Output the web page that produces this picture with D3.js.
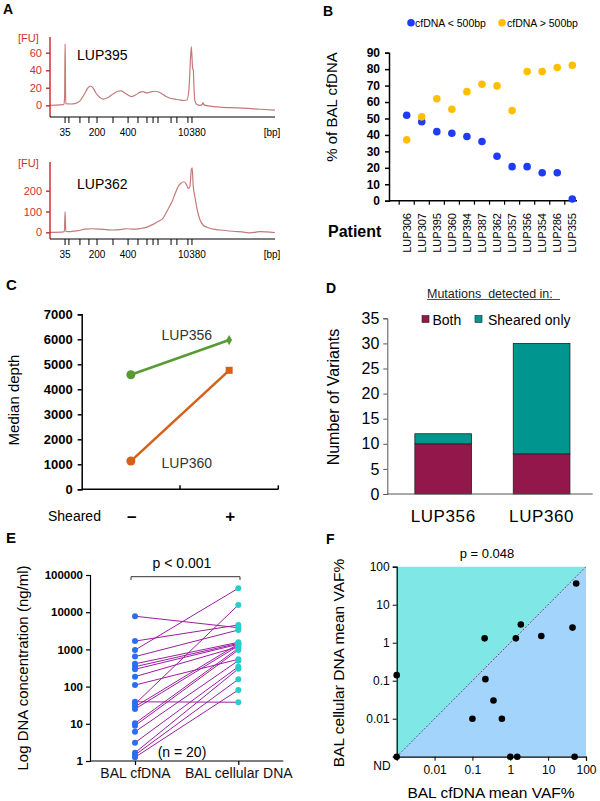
<!DOCTYPE html>
<html>
<head>
<meta charset="utf-8">
<script src="https://cdn.jsdelivr.net/npm/d3@7"></script>
<style>
  body { margin: 0; background: #fff; }
  svg text { font-family: Arial, "Liberation Sans", sans-serif; }
</style>
</head>
<body>
<div id="chart-area"></div>
<script>
// ---- panel A: electropherograms (time index vs FU)
var ladderBp = [35, 50, 100, 150, 200, 300, 400, 500, 600, 700, 1000, 2000, 3000, 7000, 10380];
var ladderTime = [6.7, 8.4, 13.3, 17.3, 20.9, 28.0, 34.7, 39.1, 43.1, 45.8, 48.0, 53.8, 56.4, 61.3, 63.1];
var ladderLabels = ["35", "200", "400", "10380"];

var lup395Time = [0, 4.4, 6.2, 6.5, 6.7, 6.8, 7.0, 8.9, 11.1, 13.3, 15.1, 16.9, 18.0, 19.1, 20.4, 22.2, 23.6, 25.8, 28.0, 30.2, 31.6, 33.3, 35.1, 36.4, 38.2, 40.0, 41.3, 43.1, 44.4, 46.7, 48.0, 49.8, 51.6, 53.3, 55.6, 57.8, 59.6, 60.9, 61.8, 62.2, 62.8, 63.1, 63.4, 63.7, 64.0, 64.4, 65.3, 66.7, 67.6, 68.0, 68.4, 71.1, 75.6, 84.4, 93.3, 100];
var lup395FU = [0, 0.5, 1, 10, 70, 55, 2, 1.5, 2, 5, 12, 20, 22, 20, 14, 9, 7, 9, 13, 16, 16.5, 14, 11, 10, 12, 15, 15.5, 14, 15, 16, 15.5, 13, 10, 8, 7, 6, 5.5, 6, 20, 40, 67, 55, 42, 40, 20, 5, 1, 0, 1, 3, 0.5, -1, -2, -3, -4.5, -5.5];

var lup362Time = [0, 5.3, 6.4, 6.7, 7.0, 8.9, 12.4, 15.6, 18.7, 22.2, 25.8, 28.0, 31.1, 34.2, 36.9, 40.0, 43.1, 45.8, 48.0, 50.2, 52.4, 54.2, 55.6, 56.9, 58.2, 59.6, 60.7, 61.5, 62.2, 62.8, 63.2, 63.6, 64.4, 65.6, 66.7, 68.0, 69.8, 72.4, 75.6, 81.3, 86.7, 88.9, 91.6, 93.3, 96.0, 98.7, 100];
var lup362FU = [0, 1, 3, 100, 4, 3, 8, 15, 17, 15, 12, 11, 13, 17, 15, 18, 25, 38, 52, 67, 110, 147, 185, 219, 236, 243, 228, 211, 220, 300, 310, 230, 171, 100, 59, 35, 24, 15, 11, 5, 0, -3, 1, 3, 2, 0, -1];

// ---- panel B
var patients = ["LUP306", "LUP307", "LUP395", "LUP360", "LUP394", "LUP387", "LUP362", "LUP357", "LUP356", "LUP354", "LUP286", "LUP355"];
var shortPct = [52, 48, 42, 41, 39, 36, 27, 20.7, 20.7, 17, 17, 1];
var longPct = [37, 51, 62, 55.6, 66.3, 70.8, 69.8, 54.8, 78.5, 78.5, 81, 82.4];

// ---- panel C
var sheared = ["–", "+"];
var depth356 = [4580, 5970];
var depth360 = [1130, 4760];

// ---- panel D
var dPatients = ["LUP356", "LUP360"];
var bothCount = [10, 8];
var shearedOnlyCount = [2, 22];

// ---- panel E
var eGroups = ["BAL cfDNA", "BAL cellular DNA"];
var cfConc = [7800, 1670, 960, 640, 410, 343, 292, 185, 110, 39, 34, 29, 25, 10.3, 8.9, 6.1, 3.1, 1.67, 1.45, 1.26];
var cellConc = [3830, 4530, 44000, 3320, 1550, 1450, 1370, 1180, 542, 38, 15600, 1400, 1250, 1070, 960, 497, 343, 300, 157, 81];

// ---- panel F (ND plotted at 0.001)
var cfVaf = [0.21, 1.4, 1.9, 6.6, 44, 55, 0.001, 0.22, 0.36, 0.1, 0.6, 0.001, 1.0, 1.53, 50];
var cellVaf = [1.3, 1.3, 3.0, 1.5, 2.5, 36, 0.14, 0.11, 0.03, 0.01, 0.01, 0.001, 0.001, 0.001, 0.001];
var fTicks = [0.01, 0.1, 1, 10, 100];

var svg = d3.select("#chart-area").append("svg")
    .attr("width", 600)
    .attr("height", 801);

function panelLabel(t, x, y, size) {
    svg.append("text").text(t).attr("x", x).attr("y", y)
        .attr("font-size", size || 14).attr("font-weight", "bold");
}

// ================= A =================
var red = "#cc3333";
var xA = d3.scaleLinear().domain([0, 100]).range([50, 275]);

function electro(trTime, trFU, yScale, ticks, yTop, yBot, name, nameY) {
    var g = svg.append("g");
    // trace
    var line = d3.line()
        .x(function(d, i) { return xA(trTime[i]); })
        .y(function(d) { return yScale(d); })
        .curve(d3.curveMonotoneX);
    g.append("path").attr("d", line(trFU))
        .attr("fill", "none").attr("stroke", "#c47a7a").attr("stroke-width", 1.2);
    // y axis
    g.append("line").attr("x1", 50).attr("x2", 50).attr("y1", yTop).attr("y2", yBot)
        .attr("stroke", red).attr("stroke-width", 1.5);
    var ya = g.append("g").attr("transform", "translate(50,0)")
        .call(d3.axisLeft(yScale).tickValues(ticks).tickSize(4).tickPadding(4));
    ya.select(".domain").remove();
    ya.selectAll("line").attr("stroke", red).attr("stroke-width", 1.5);
    ya.selectAll("text").attr("fill", red).attr("font-size", 11);
    g.append("text").text("[FU]").attr("x", 18).attr("y", yTop + 5)
        .attr("fill", red).attr("font-size", 11);
    // x axis
    g.append("line").attr("x1", 50).attr("x2", 275).attr("y1", yBot).attr("y2", yBot)
        .attr("stroke", "#000").attr("stroke-width", 1.2);
    g.selectAll(".lt").data(ladderTime).enter().append("line")
        .attr("x1", function(d) { return xA(d); }).attr("x2", function(d) { return xA(d); })
        .attr("y1", yBot).attr("y2", yBot + 6)
        .attr("stroke", "#000").attr("stroke-width", 1);
    g.selectAll(".ll").data(ladderLabels).enter().append("text")
        .text(function(d) { return d; })
        .attr("x", function(d) { return xA(ladderTime[ladderBp.indexOf(+d)]); })
        .attr("y", yBot + 19)
        .attr("text-anchor", "middle").attr("font-size", 10);
    g.append("text").text("[bp]").attr("x", 272).attr("y", yBot + 19)
        .attr("text-anchor", "middle").attr("font-size", 10);
    g.append("text").text(name).attr("x", 77).attr("y", nameY)
        .attr("font-size", 14);
}

panelLabel("A", 3, 14);
var yA1 = d3.scaleLinear().domain([0, 60]).range([105.3, 52.7]);
electro(lup395Time, lup395FU, yA1, [0, 20, 40, 60], 37, 117, "LUP395", 60);
var yA2 = d3.scaleLinear().domain([0, 200]).range([232.3, 190.7]);
electro(lup362Time, lup362FU, yA2, [0, 100, 200], 162, 239, "LUP362", 189);

// ================= B =================
panelLabel("B", 323, 16);
var blue = "#1f3cf5", orange = "#ffbf00";
var xB = d3.scalePoint().domain(patients).range([406.7, 572.3]);
var yB = d3.scaleLinear().domain([0, 90]).range([200.7, 52.7]);

var yaB = svg.append("g").attr("transform", "translate(389,0)")
    .call(d3.axisLeft(yB).tickValues(d3.range(0, 91, 10)).tickSize(4).tickPadding(5));
yaB.select(".domain").attr("stroke-width", 1.5);
yaB.selectAll("line").attr("stroke-width", 1.5);
yaB.selectAll("text").attr("font-size", 12).attr("font-weight", "bold");
svg.append("line").attr("x1", 389).attr("x2", 577).attr("y1", 200.7).attr("y2", 200.7)
    .attr("stroke", "#000").attr("stroke-width", 1.5);
svg.selectAll(".bt").data(patients).enter().append("line")
    .attr("x1", function(d) { return xB(d) - 7.5; }).attr("x2", function(d) { return xB(d) - 7.5; })
    .attr("y1", 200.7).attr("y2", 204.7).attr("stroke", "#000").attr("stroke-width", 1.2);
svg.selectAll(".bl").data(patients).enter().append("text")
    .text(function(d) { return d; })
    .attr("transform", function(d) { return "translate(" + (xB(d) + 4) + ",213) rotate(-90)"; })
    .attr("text-anchor", "end").attr("font-size", 11);

svg.selectAll(".bs").data(shortPct).enter().append("circle")
    .attr("cx", function(d, i) { return xB(patients[i]); })
    .attr("cy", function(d) { return yB(d); })
    .attr("r", 3.8).attr("fill", blue);
svg.selectAll(".bo").data(longPct).enter().append("circle")
    .attr("cx", function(d, i) { return xB(patients[i]); })
    .attr("cy", function(d) { return yB(d); })
    .attr("r", 3.8).attr("fill", orange);

svg.append("text").text("% of BAL cfDNA")
    .attr("transform", "translate(337,107) rotate(-90)")
    .attr("text-anchor", "middle").attr("font-size", 15);
svg.append("text").text("Patient").attr("x", 328).attr("y", 237)
    .attr("font-size", 16).attr("font-weight", "bold");

// legend B
svg.append("circle").attr("cx", 411).attr("cy", 22.7).attr("r", 3.8).attr("fill", blue);
svg.append("text").text("cfDNA < 500bp").attr("x", 415).attr("y", 26.5).attr("font-size", 10.5);
svg.append("circle").attr("cx", 502).attr("cy", 22.7).attr("r", 3.8).attr("fill", orange);
svg.append("text").text("cfDNA > 500bp").attr("x", 507).attr("y", 26.5).attr("font-size", 10.5);

// ================= C =================
panelLabel("C", 6, 290, 15);
var xC = d3.scaleBand().domain(sheared).range([81.7, 278.3]);
var yC = d3.scaleLinear().domain([0, 7000]).range([489.3, 314.3]);

var yaC = svg.append("g").attr("transform", "translate(81.7,0)")
    .call(d3.axisLeft(yC).tickValues(d3.range(0, 7001, 1000))
        .tickFormat(d3.format("d")).tickSize(4).tickPadding(5));
yaC.select(".domain").attr("stroke-width", 1.5);
yaC.selectAll("line").attr("stroke-width", 1.5);
yaC.selectAll("text").attr("font-size", 13).attr("font-weight", "bold");
svg.append("line").attr("x1", 81.7).attr("x2", 278.3).attr("y1", 489.3).attr("y2", 489.3)
    .attr("stroke", "#000").attr("stroke-width", 1.5);
[81.7 + xC.bandwidth(), 278.3].forEach(function(x) {
    svg.append("line").attr("x1", x).attr("x2", x).attr("y1", 485.3).attr("y2", 489.3)
        .attr("stroke", "#000").attr("stroke-width", 1.5);
});

function cx(i) { return xC(sheared[i]) + xC.bandwidth() / 2; }
var lineC = d3.line().x(function(d, i) { return cx(i); }).y(function(d) { return yC(d); });
var green = "#5a9a35", rust = "#d4601a";
svg.append("path").attr("d", lineC(depth356)).attr("fill", "none")
    .attr("stroke", green).attr("stroke-width", 2.5);
svg.append("path").attr("d", lineC(depth360)).attr("fill", "none")
    .attr("stroke", rust).attr("stroke-width", 2.5);
svg.append("circle").attr("cx", cx(0)).attr("cy", yC(depth356[0])).attr("r", 4.5).attr("fill", green);
svg.append("path").attr("d", d3.symbol(d3.symbolDiamond, 30)())
    .attr("transform", "translate(" + cx(1) + "," + yC(depth356[1]) + ")").attr("fill", green);
svg.append("circle").attr("cx", cx(0)).attr("cy", yC(depth360[0])).attr("r", 4.5).attr("fill", rust);
svg.append("rect").attr("x", cx(1) - 3.5).attr("y", yC(depth360[1]) - 3.5)
    .attr("width", 7).attr("height", 7).attr("fill", rust);

svg.append("text").text("LUP356").attr("x", 161.5).attr("y", 340)
    .attr("font-size", 14).attr("fill", "#333");
svg.append("text").text("LUP360").attr("x", 161.5).attr("y", 467.5)
    .attr("font-size", 14).attr("fill", "#333");
svg.append("text").text("Median depth")
    .attr("transform", "translate(19,400) rotate(-90)")
    .attr("text-anchor", "middle").attr("font-size", 15);
svg.append("text").text("Sheared").attr("x", 48).attr("y", 521).attr("font-size", 14);
svg.selectAll(".cl").data(sheared).enter().append("text")
    .text(function(d) { return d; })
    .attr("x", function(d, i) { return cx(i) + 1; }).attr("y", 522)
    .attr("text-anchor", "middle").attr("font-size", 17).attr("font-weight", "bold");

// ================= D =================
panelLabel("D", 326, 293);
var xD = d3.scaleBand().domain(dPatients).range([387.3, 597.5]).paddingInner(0.424).paddingOuter(0.28);
var yD = d3.scaleLinear().domain([0, 35]).range([494, 318.3]);

var yaD = svg.append("g").attr("transform", "translate(387.3,0)")
    .call(d3.axisLeft(yD).tickValues(d3.range(0, 36, 5)).tickSize(4).tickPadding(4));
yaD.select(".domain").attr("stroke", "#555");
yaD.selectAll("line").attr("stroke", "#555");
yaD.selectAll("text").attr("font-size", 16);

var both = "#93174a", shOnly = "#009690";
svg.selectAll(".db").data(bothCount).enter().append("rect")
    .attr("x", function(d, i) { return xD(dPatients[i]); })
    .attr("y", function(d) { return yD(d); })
    .attr("width", xD.bandwidth())
    .attr("height", function(d) { return yD(0) - yD(d); })
    .attr("fill", both).attr("stroke", "#222").attr("stroke-width", 0.8);
svg.selectAll(".ds").data(shearedOnlyCount).enter().append("rect")
    .attr("x", function(d, i) { return xD(dPatients[i]); })
    .attr("y", function(d, i) { return yD(d + bothCount[i]); })
    .attr("width", xD.bandwidth())
    .attr("height", function(d, i) { return yD(bothCount[i]) - yD(d + bothCount[i]); })
    .attr("fill", shOnly).attr("stroke", "#222").attr("stroke-width", 0.8);
svg.append("line").attr("x1", 387.3).attr("x2", 592.7).attr("y1", 494).attr("y2", 494)
    .attr("stroke", "#555").attr("stroke-width", 1);
svg.selectAll(".dl").data(dPatients).enter().append("text")
    .text(function(d) { return d; })
    .attr("x", function(d) { return xD(d) + xD.bandwidth() / 2; }).attr("y", 522)
    .attr("text-anchor", "middle").attr("font-size", 17).attr("letter-spacing", 0.6);
svg.append("text").text("Number of Variants")
    .attr("transform", "translate(339,397) rotate(-90)")
    .attr("text-anchor", "middle").attr("font-size", 16);
svg.append("text").text("Mutations\u00a0 detected in:").attr("x", 427).attr("y", 297.5)
    .attr("font-size", 12.5).attr("fill", "#222");
svg.append("line").attr("x1", 427).attr("x2", 560).attr("y1", 299.5).attr("y2", 299.5)
    .attr("stroke", "#222").attr("stroke-width", 0.8);
svg.append("rect").attr("x", 422).attr("y", 315.5).attr("width", 7).attr("height", 7)
    .attr("fill", both).attr("stroke", "#222").attr("stroke-width", 0.6);
svg.append("text").text("Both").attr("x", 432.5).attr("y", 324.5).attr("font-size", 14);
svg.append("rect").attr("x", 475).attr("y", 315.5).attr("width", 7).attr("height", 7)
    .attr("fill", shOnly).attr("stroke", "#222").attr("stroke-width", 0.6);
svg.append("text").text("Sheared only").attr("x", 488).attr("y", 324.5).attr("font-size", 14);

// ================= E =================
panelLabel("E", 6, 543, 15);
var xE = d3.scalePoint().domain(eGroups).range([135, 238.3]);
var yE = d3.scaleLog().domain([1, 100000]).range([761, 575]);

var yaE = svg.append("g").attr("transform", "translate(90,0)")
    .call(d3.axisLeft(yE).tickValues([1, 10, 100, 1000, 10000, 100000])
        .tickFormat(d3.format("d")).tickSize(4).tickPadding(3));
yaE.select(".domain").attr("stroke-width", 1.2);
yaE.selectAll("line").attr("stroke-width", 1.2);
yaE.selectAll("text").attr("font-size", 11.5).attr("font-weight", "bold");
var xaE = svg.append("g").attr("transform", "translate(0,761)")
    .call(d3.axisBottom(xE).tickSize(4).tickPadding(3));
xaE.select(".domain").attr("d", "M90,0H283.3").attr("stroke-width", 1.2);
xaE.selectAll("line").attr("stroke-width", 1.2);
xaE.selectAll("text").attr("font-size", 14).attr("fill", "#111");

svg.selectAll(".el").data(cfConc).enter().append("line")
    .attr("x1", xE(eGroups[0])).attr("x2", xE(eGroups[1]))
    .attr("y1", function(d) { return yE(d); })
    .attr("y2", function(d, i) { return yE(cellConc[i]); })
    .attr("stroke", "#9a1f9e").attr("stroke-width", 1);
svg.selectAll(".ec").data(cfConc).enter().append("circle")
    .attr("cx", xE(eGroups[0])).attr("cy", function(d) { return yE(d); })
    .attr("r", 3).attr("fill", "#2a6ef0");
svg.selectAll(".ed").data(cellConc).enter().append("circle")
    .attr("cx", xE(eGroups[1])).attr("cy", function(d) { return yE(d); })
    .attr("r", 3).attr("fill", "#28cccc");

svg.append("path").attr("d", "M131,580V576.7H240V580")
    .attr("fill", "none").attr("stroke", "#333").attr("stroke-width", 1);
svg.append("text").text("p < 0.001").attr("x", 182).attr("y", 568)
    .attr("text-anchor", "middle").attr("font-size", 14);
svg.append("text").text("(n = 20)").attr("x", 182).attr("y", 756.5)
    .attr("text-anchor", "middle").attr("font-size", 14);
svg.append("text").text("Log DNA concentration (ng/ml)")
    .attr("transform", "translate(28,668) rotate(-90)")
    .attr("text-anchor", "middle").attr("font-size", 15);

// ================= F =================
panelLabel("F", 326, 544);
var xF = d3.scaleLog().domain([0.001, 100]).range([396.7, 586]);
var yF = d3.scaleLog().domain([0.001, 100]).range([756.7, 566.7]);

svg.append("path")
    .attr("d", "M" + xF(0.001) + "," + yF(0.001) + "L" + xF(0.001) + "," + yF(100) + "L" + xF(100) + "," + yF(100) + "Z")
    .attr("fill", "#7fe8e6");
svg.append("path")
    .attr("d", "M" + xF(0.001) + "," + yF(0.001) + "L" + xF(100) + "," + yF(100) + "L" + xF(100) + "," + yF(0.001) + "Z")
    .attr("fill", "#a2d4fc");
svg.append("line").attr("x1", xF(0.001)).attr("y1", yF(0.001))
    .attr("x2", xF(100)).attr("y2", yF(100))
    .attr("stroke", "#334").attr("stroke-width", 0.8).attr("stroke-dasharray", "2,1.5");

var fmtF = function(d) { return d >= 1 ? d3.format("d")(d) : String(d); };
var yaF = svg.append("g").attr("transform", "translate(396.7,0)")
    .call(d3.axisLeft(yF).tickValues(fTicks).tickFormat(fmtF).tickSize(4).tickPadding(3));
yaF.select(".domain").attr("stroke-width", 1.2);
yaF.selectAll("text").attr("font-size", 12);
var xaF = svg.append("g").attr("transform", "translate(0,756.7)")
    .call(d3.axisBottom(xF).tickValues(fTicks).tickFormat(fmtF).tickSize(4).tickPadding(5));
xaF.select(".domain").attr("stroke-width", 1.2);
xaF.selectAll("text").attr("font-size", 12);
svg.append("text").text("ND").attr("x", 382).attr("y", 770)
    .attr("text-anchor", "middle").attr("font-size", 12);

svg.selectAll(".fp").data(cfVaf).enter().append("circle")
    .attr("cx", function(d) { return xF(d); })
    .attr("cy", function(d, i) { return yF(cellVaf[i]); })
    .attr("r", 3.3).attr("fill", "#000");

svg.append("text").text("p = 0.048").attr("x", 487).attr("y", 557.5)
    .attr("text-anchor", "middle").attr("font-size", 13);
svg.append("text").text("BAL cfDNA mean VAF%").attr("x", 491).attr("y", 798)
    .attr("text-anchor", "middle").attr("font-size", 15.5);
svg.append("text").text("BAL cellular DNA mean VAF%")
    .attr("transform", "translate(344,663) rotate(-90)")
    .attr("text-anchor", "middle").attr("font-size", 15.5);
</script>
</body>
</html>
